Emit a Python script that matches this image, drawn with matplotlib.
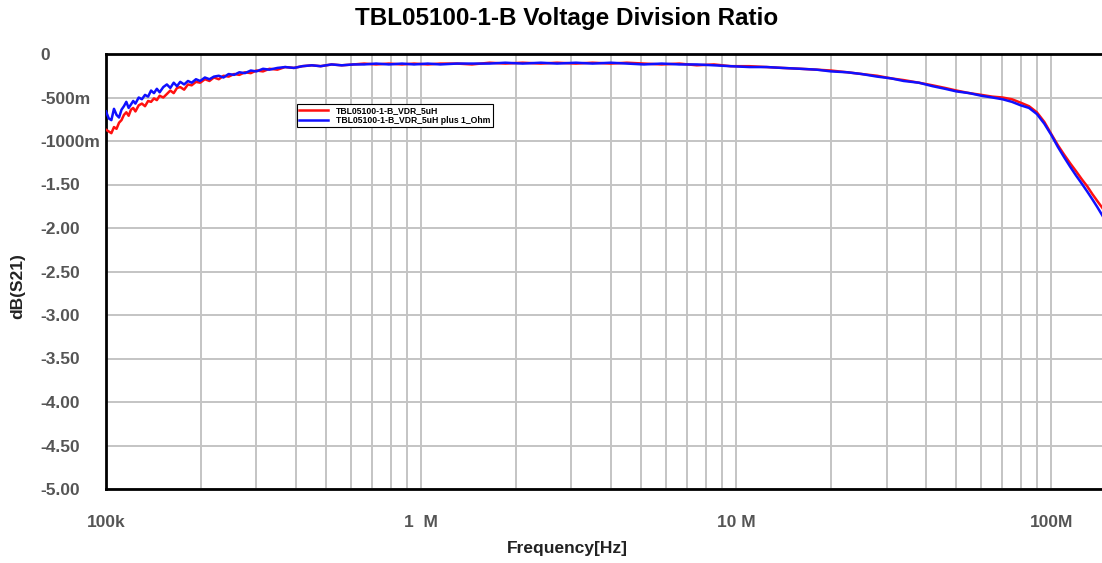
import matplotlib
matplotlib.use("Agg")
import matplotlib.pyplot as plt
from matplotlib.ticker import FixedLocator, NullFormatter

# sweep frequencies in kHz
freq_khz = [100, 102, 104, 106, 108, 110, 112, 114, 116, 118,
            120, 122, 124, 127, 130, 133, 136, 139, 142, 145,
            148, 152, 156, 160, 164, 168, 172, 177, 182, 187,
            193, 199, 206, 213, 220, 228, 236, 245, 255, 265,
            276, 288, 300, 315, 330, 350, 370, 395, 420, 450,
            480, 520, 560, 610, 660, 720, 790, 870, 950, 1050,
            1150, 1300, 1450, 1650, 1850, 2100, 2400, 2700, 3100, 3500,
            4000, 4500, 5100, 5800, 6600, 7500, 8500, 9600, 11000, 12500,
            14000, 16000, 18000, 20000, 22500, 25000, 28000, 31000, 34000, 38000,
            42000, 46000, 50000, 55000, 60000, 65000, 70000, 75000, 80000, 85000,
            90000, 95000, 100000, 105000, 110000, 115000, 120000, 125000, 130000, 135000,
            140000, 146000]

vdr_5uh = [-0.87, -0.89, -0.91, -0.84, -0.86, -0.79, -0.76, -0.70, -0.67, -0.71,
           -0.64, -0.62, -0.66, -0.59, -0.57, -0.60, -0.54, -0.55, -0.51, -0.53,
           -0.48, -0.50, -0.46, -0.42, -0.45, -0.39, -0.38, -0.41, -0.35, -0.36,
           -0.32, -0.33, -0.29, -0.31, -0.27, -0.29, -0.25, -0.26, -0.23, -0.24,
           -0.21, -0.22, -0.19, -0.20, -0.17, -0.18, -0.15, -0.16, -0.14, -0.13,
           -0.14, -0.12, -0.13, -0.12, -0.11, -0.12, -0.11, -0.12, -0.11, -0.12,
           -0.11, -0.11, -0.12, -0.10, -0.11, -0.10, -0.11, -0.10, -0.11, -0.10,
           -0.11, -0.10, -0.11, -0.12, -0.11, -0.13, -0.12, -0.14, -0.14, -0.15,
           -0.16, -0.17, -0.18, -0.19, -0.21, -0.23, -0.25, -0.28, -0.30, -0.33,
           -0.36, -0.39, -0.42, -0.45, -0.47, -0.49, -0.50, -0.52, -0.56, -0.60,
           -0.67, -0.78, -0.92, -1.05, -1.16, -1.26, -1.35, -1.44, -1.52, -1.61,
           -1.69, -1.78]

vdr_5uh_1ohm = [-0.66, -0.74, -0.76, -0.63, -0.70, -0.73, -0.64, -0.60, -0.55, -0.62,
                -0.58, -0.54, -0.57, -0.50, -0.52, -0.47, -0.49, -0.42, -0.45, -0.40,
                -0.44, -0.38, -0.35, -0.39, -0.33, -0.37, -0.32, -0.35, -0.31, -0.33,
                -0.29, -0.31, -0.27, -0.29, -0.26, -0.25, -0.27, -0.23, -0.24, -0.21,
                -0.22, -0.19, -0.20, -0.17, -0.18, -0.16, -0.15, -0.16, -0.14, -0.13,
                -0.14, -0.12, -0.13, -0.12, -0.12, -0.11, -0.12, -0.11, -0.12, -0.11,
                -0.12, -0.11, -0.11, -0.11, -0.10, -0.11, -0.10, -0.11, -0.10, -0.11,
                -0.10, -0.11, -0.12, -0.11, -0.12, -0.12, -0.13, -0.14, -0.15, -0.15,
                -0.16, -0.17, -0.18, -0.20, -0.21, -0.23, -0.26, -0.28, -0.31, -0.33,
                -0.37, -0.40, -0.43, -0.45, -0.48, -0.50, -0.52, -0.55, -0.59, -0.62,
                -0.69, -0.80, -0.93, -1.07, -1.19, -1.30, -1.40, -1.49, -1.58, -1.67,
                -1.76, -1.87]

x_ticks = [1e5, 1e6, 1e7, 1e8]
x_labels = ["100k", "1  M", "10 M", "100M"]
y_ticks = [0, -0.5, -1.0, -1.5, -2.0, -2.5, -3.0, -3.5, -4.0, -4.5, -5.0]
y_labels = ["0", "-500m", "-1000m", "-1.50", "-2.00", "-2.50", "-3.00",
            "-3.50", "-4.00", "-4.50", "-5.00"]

plt.rcParams["font.family"] = ["Liberation Sans", "DejaVu Sans"]
plt.rcParams["font.weight"] = "bold"

W, H = 1102, 563
fig = plt.figure(figsize=(W / 100, H / 100), dpi=100)
ax = fig.add_axes([106 / W, 1 - 489 / H, (1104 - 106) / W, (489 - 54) / H])

freq = [f * 1e3 for f in freq_khz]
ax.plot(freq, vdr_5uh, color="#ff1010", linewidth=1.8, label="TBL05100-1-B_VDR_5uH", zorder=3)
ax.plot(freq, vdr_5uh_1ohm, color="#1010ff", linewidth=1.8,
        label="TBL05100-1-B_VDR_5uH plus 1_Ohm", zorder=4)

ax.set_xscale("log")
ax.set_xlim(1e5, 1.47e8)
ax.set_ylim(-5.0, 0)

minor = [m * 10 ** d for d in range(5, 9) for m in range(2, 10)]
ax.xaxis.set_major_locator(FixedLocator(x_ticks))
ax.xaxis.set_minor_locator(FixedLocator(minor))
ax.xaxis.set_minor_formatter(NullFormatter())
ax.set_xticks(x_ticks, x_labels)
ax.set_yticks(y_ticks, y_labels)

ax.grid(True, which="both", axis="x", color="#c4c4c4", linewidth=1.4)
ax.grid(True, which="major", axis="y", color="#c4c4c4", linewidth=1.4)
ax.set_axisbelow(True)

ax.tick_params(axis="both", which="both", length=0)
ax.tick_params(axis="x", pad=19, labelsize=12.5, labelcolor="#555555")
ax.tick_params(axis="y", pad=47, labelsize=12.5, labelcolor="#555555")
for lab in ax.get_yticklabels():
    lab.set_horizontalalignment("left")

for side in ["left", "bottom", "top"]:
    ax.spines[side].set_linewidth(2)
    ax.spines[side].set_color("black")
ax.spines["right"].set_visible(False)

fig.text(567 / W, 1 - 18 / H, "TBL05100-1-B Voltage Division Ratio",
         ha="center", va="center", fontsize=17.5, fontweight="bold", color="black")
fig.text(567 / W, 1 - 549 / H, "Frequency[Hz]", ha="center", va="center",
         fontsize=12.5, fontweight="bold", color="#222222")
fig.text(18 / W, 1 - 286 / H, "dB(S21)", ha="center", va="center", rotation=90,
         fontsize=12.5, fontweight="bold", color="#222222")

leg = ax.legend(loc="upper left", bbox_to_anchor=(297 / W, 1 - 104 / H),
                bbox_transform=fig.transFigure, fontsize=6.2, frameon=True,
                fancybox=False, edgecolor="black", framealpha=1,
                handlelength=3.4, borderpad=0.25, labelspacing=0.05,
                handletextpad=0.9, borderaxespad=0)
leg.get_frame().set_linewidth(0.8)
# push the legend rows a little right inside the frame, as in the original
leg._legend_box.align = "left"
leg.get_frame().set_width(leg.get_frame().get_width())

fig.savefig("out.png", dpi=100)
